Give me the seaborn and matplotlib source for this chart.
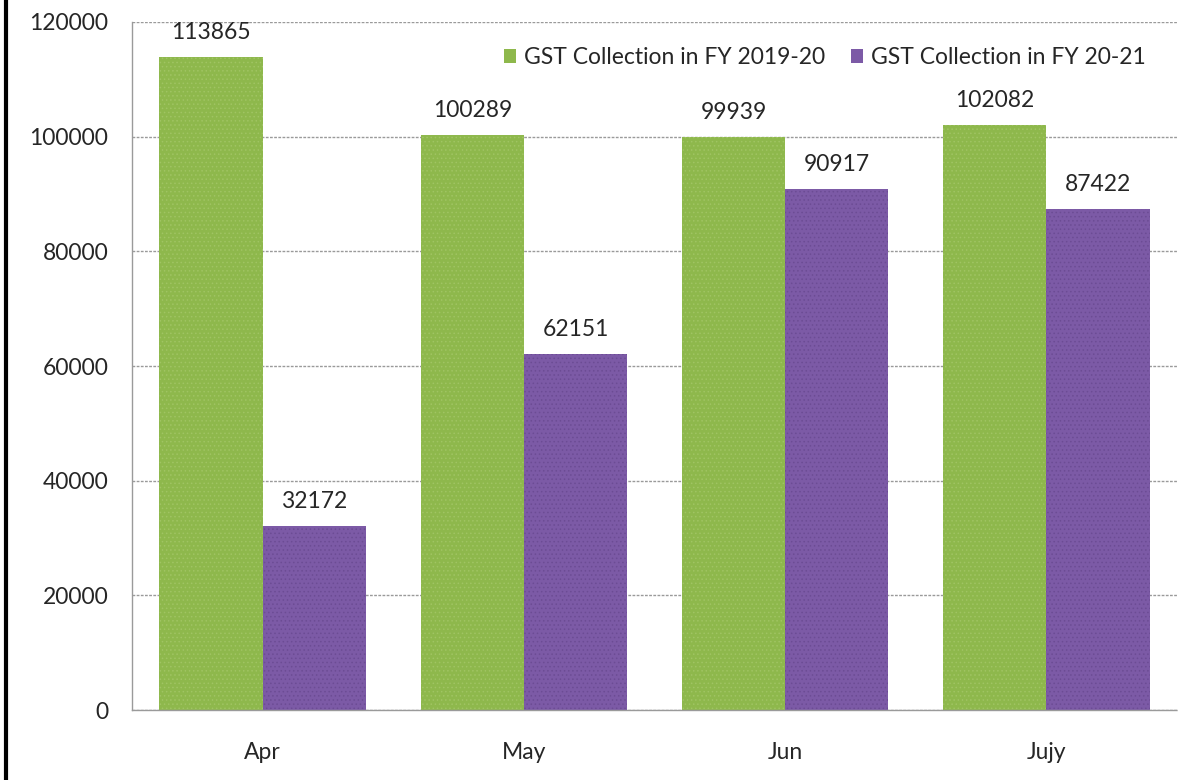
import matplotlib
matplotlib.use("Agg")
import matplotlib.pyplot as plt
import seaborn as sns
import pandas as pd

months = ["Apr", "May", "Jun", "Jujy"]
fy_2019_20 = [113865, 100289, 99939, 102082]
fy_2020_21 = [32172, 62151, 90917, 87422]
series_names = ["GST Collection in FY 2019-20", "GST Collection in FY 20-21"]
colors = ["#8EB84C", "#7C5AA6"]

df = pd.DataFrame({
    "Month": months * 2,
    "Value": fy_2019_20 + fy_2020_21,
    "Series": [series_names[0]] * 4 + [series_names[1]] * 4,
})

sns.set_theme(style="white")
plt.rcParams["font.family"] = ["Lato", "DejaVu Sans"]
plt.rcParams["hatch.linewidth"] = 0.6

fig = plt.figure(figsize=(12.04, 7.8), dpi=100)
ax = fig.add_axes([0.1096, 0.0897, 0.8680, 0.8821])

sns.barplot(data=df, x="Month", y="Value", hue="Series", palette=colors,
            width=0.79, saturation=1, ax=ax, linewidth=0)

hatch_cols = ["#A0C463", "#6C4C94"]
for cont, hc in zip(ax.containers, hatch_cols):
    for p in cont.patches:
        p.set_hatch("....")
        p.set_edgecolor(hc)
        p.set_linewidth(0)

for cont in ax.containers:
    ax.bar_label(cont, labels=[f"{int(v)}" for v in cont.datavalues],
                 padding=10, fontsize=16.5, color="#262626")

ax.set_ylim(0, 120000)
ax.set_xlim(-0.5, 3.5)
ax.set_yticks(range(0, 120001, 20000))
ax.set_yticklabels([str(v) for v in range(0, 120001, 20000)], fontsize=16.5, color="#262626")
ax.tick_params(axis="x", labelsize=16.5, colors="#262626", length=0, pad=23)
ax.tick_params(axis="y", length=0, pad=17)
ax.set_xlabel("")
ax.set_ylabel("")
ax.yaxis.grid(True, color="#9a9a9a", linestyle=(0, (2, 1)), linewidth=1)
ax.set_axisbelow(True)
for s in ["top", "right"]:
    ax.spines[s].set_visible(False)
for s in ["left", "bottom"]:
    ax.spines[s].set_color("#9a9a9a")
    ax.spines[s].set_linestyle((0, (2, 1)))
    ax.spines[s].set_linewidth(1)

leg = ax.legend(loc="upper right", ncol=2, frameon=False, fontsize=16.5,
                handlelength=0.55, handleheight=0.55, handletextpad=0.35,
                columnspacing=1.1, bbox_to_anchor=(0.99, 0.993))
for t in leg.get_texts():
    t.set_color("#262626")
for h in leg.legend_handles:
    h.set_hatch(None)
    h.set_linewidth(0)

fig.add_artist(plt.Line2D([0.005, 0.005], [0, 1], color="black", linewidth=3,
                          transform=fig.transFigure))

fig.savefig("out.png", dpi=100, facecolor="white")
